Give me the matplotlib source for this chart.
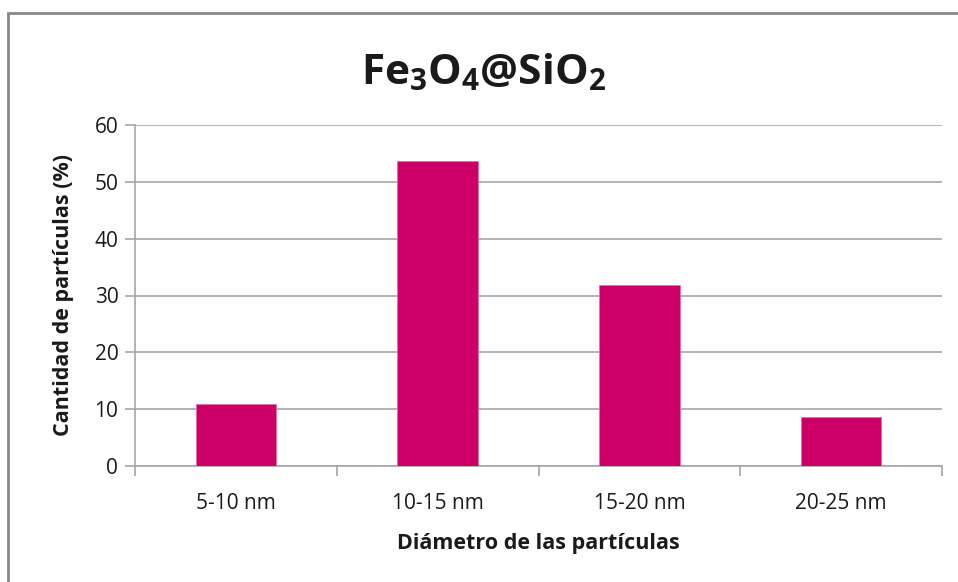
import matplotlib
matplotlib.use("Agg")
import matplotlib.pyplot as plt
from matplotlib.patches import Rectangle

plt.rcParams['font.family'] = ['Open Sans', 'DejaVu Sans']
plt.rcParams['mathtext.fontset'] = 'custom'
plt.rcParams['mathtext.rm'] = 'Open Sans'
plt.rcParams['mathtext.bf'] = 'Open Sans:bold'

categories = ["5-10 nm", "10-15 nm", "15-20 nm", "20-25 nm"]
values = [11.0, 53.6, 31.8, 8.6]
yticks = [0, 10, 20, 30, 40, 50, 60]

title = r"$\mathbf{Fe_3O_4@SiO_2}$"
xlabel = "Diámetro de las partículas"
ylabel = "Cantidad de partículas (%)"

bar_color = "#CC0066"
grid_color = "#A6A6A6"
text_color = "#1A1A1A"

fig = plt.figure(figsize=(9.58, 5.82), dpi=100)
fig.patches.append(Rectangle((8 / 958, -0.1), 1.2, (582 - 13) / 582 + 0.1,
                             transform=fig.transFigure, fill=False,
                             edgecolor="#888888", linewidth=2))

ax = fig.add_axes([135 / 958, 115.7 / 582, (942 - 135) / 958, (466.3 - 124.7) / 582])

x = list(range(len(categories)))
ax.bar(x, values, width=0.40, color=bar_color, edgecolor="#E070A8",
       linewidth=0.6, zorder=3)

ax.set_xlim(-0.5, len(categories) - 0.5)
ax.set_ylim(0, 60)
ax.set_yticks(yticks)
ax.set_yticklabels([str(t) for t in yticks], fontsize=15, color=text_color)
ax.yaxis.grid(True, color=grid_color, linewidth=1.2, zorder=0)
ax.set_axisbelow(True)

ax.set_xticks(x)
ax.set_xticklabels(categories, fontsize=15, color=text_color)
ax.tick_params(axis='x', length=0, pad=19)
ax.set_xticks([i + 0.5 for i in range(-1, len(categories))], minor=True)
ax.tick_params(axis='x', which='minor', length=7, color=grid_color, width=1.2)
ax.tick_params(axis='y', length=7, color=grid_color, width=1.2, pad=5)

for side in ["top", "right"]:
    ax.spines[side].set_visible(False)
for side in ["left", "bottom"]:
    ax.spines[side].set_color(grid_color)
    ax.spines[side].set_linewidth(1.2)

ax.set_xlabel(xlabel, fontsize=15.5, fontweight="bold", labelpad=14, color=text_color)
ax.set_ylabel(ylabel, fontsize=15.5, fontweight="bold", labelpad=15, color=text_color)

fig.text(0.505, 0.875, title, fontsize=30.5, ha="center", va="center", color=text_color)

fig.savefig("out.png", dpi=100, facecolor="white")
